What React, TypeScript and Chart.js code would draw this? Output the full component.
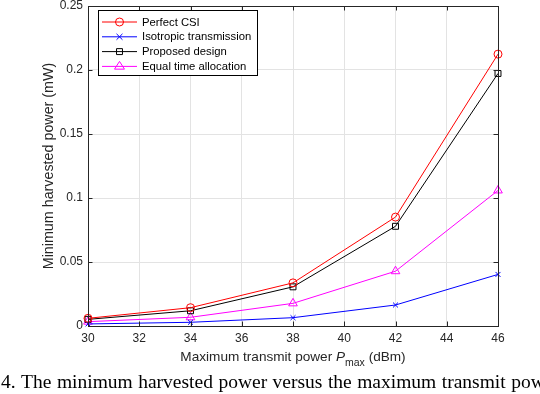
import React, { useEffect, useRef } from 'react';
import { Chart, registerables } from 'chart.js';

Chart.register(...registerables);

// ---- data ----
const xValues = [30, 34, 38, 42, 46];
const perfectCSI = [0.006, 0.0143, 0.0337, 0.0851, 0.2124];
const isotropic = [0.0016, 0.0029, 0.0065, 0.0164, 0.0403];
const proposed = [0.0052, 0.0119, 0.0306, 0.0779, 0.1973];
const equalTime = [0.0034, 0.0068, 0.0177, 0.0428, 0.1059];

const seriesLabels = ['Perfect CSI', 'Isotropic transmission', 'Proposed design', 'Equal time allocation'];
const seriesColors = ['#ff0000', '#0000ff', '#000000', '#ff00ff'];
const seriesMarkers = ['circle', 'crossRot', 'rect', 'triangle'];
const seriesRadius = [4, 3.5, 4.2, 5];
const seriesValues = [perfectCSI, isotropic, proposed, equalTime];

const xMin = 30;
const xMax = 46;
const xStep = 2;
const yMin = 0;
const yMax = 0.25;
const yStep = 0.05;

const yTitle = 'Minimum harvested power (mW)';
const xTitleMain = 'Maximum transmit power ';
const xTitleVar = 'P';
const xTitleSub = 'max';
const xTitleUnit = ' (dBm)';
const caption = '4. The minimum harvested power versus the maximum transmit power';

const SANS = '"Liberation Sans", Arial, Helvetica, sans-serif';
const SERIF = '"Liberation Serif", "Times New Roman", serif';
const AXIS_COLOR = '#262626';

function drawMarker(ctx: CanvasRenderingContext2D, style: string, x: number, y: number, r: number, color: string) {
  ctx.save();
  ctx.strokeStyle = color;
  ctx.lineWidth = 1;
  ctx.beginPath();
  if (style === 'circle') {
    ctx.arc(x, y, r, 0, Math.PI * 2);
  } else if (style === 'crossRot') {
    const d = r * Math.SQRT1_2 * 1.2;
    ctx.moveTo(x - d, y - d); ctx.lineTo(x + d, y + d);
    ctx.moveTo(x + d, y - d); ctx.lineTo(x - d, y + d);
  } else if (style === 'rect') {
    const s = r * Math.SQRT1_2;
    ctx.rect(x - s, y - s, 2 * s, 2 * s);
  } else if (style === 'triangle') {
    ctx.moveTo(x, y - r);
    ctx.lineTo(x + r * 0.866 * 1.15, y + r * 0.5 * 1.1);
    ctx.lineTo(x - r * 0.866 * 1.15, y + r * 0.5 * 1.1);
    ctx.closePath();
  }
  ctx.stroke();
  ctx.restore();
}

const decorPlugin = {
  id: 'decor',
  afterDatasetsDraw(chart: any) {
    const ctx: CanvasRenderingContext2D = chart.ctx;
    const { left, right, top, bottom } = chart.chartArea;
    const xs = chart.scales.x;
    const ys = chart.scales.y;
    ctx.save();
    ctx.strokeStyle = AXIS_COLOR;
    ctx.lineWidth = 1;
    // inward ticks
    const tl = 4.5;
    ctx.beginPath();
    for (let v = xMin; v <= xMax + 1e-9; v += xStep) {
      const px = Math.round(xs.getPixelForValue(v)) + 0.5;
      ctx.moveTo(px, bottom); ctx.lineTo(px, bottom - tl);
      ctx.moveTo(px, top); ctx.lineTo(px, top + tl);
    }
    for (let v = yMin; v <= yMax + 1e-9; v += yStep) {
      const py = Math.round(ys.getPixelForValue(v)) + 0.5;
      ctx.moveTo(left, py); ctx.lineTo(left + tl, py);
      ctx.moveTo(right, py); ctx.lineTo(right - tl, py);
    }
    ctx.stroke();
    // box
    ctx.strokeRect(Math.round(left) + 0.5, Math.round(top) + 0.5, Math.round(right - left), Math.round(bottom - top));

    // legend
    const lx = 98, ly = 10, lw = 159, lh = 65;
    ctx.fillStyle = '#ffffff';
    ctx.fillRect(lx, ly, lw, lh);
    ctx.strokeStyle = '#000000';
    ctx.strokeRect(lx + 0.5, ly + 0.5, lw, lh);
    ctx.font = `11.3px ${SANS}`;
    ctx.textBaseline = 'middle';
    ctx.textAlign = 'left';
    chart.data.datasets.forEach((ds: any, i: number) => {
      const ry = ly + 12 + i * 14.8;
      ctx.strokeStyle = ds.borderColor;
      ctx.lineWidth = 1;
      ctx.beginPath();
      ctx.moveTo(lx + 4, ry); ctx.lineTo(lx + 39, ry);
      ctx.stroke();
      drawMarker(ctx, ds.pointStyle, lx + 21.5, ry, ds.pointRadius, ds.borderColor);
      ctx.fillStyle = '#000000';
      ctx.fillText(ds.label, lx + 44, ry + 0.5);
    });
    ctx.restore();
  },
  afterDraw(chart: any) {
    const ctx: CanvasRenderingContext2D = chart.ctx;
    const { left, right } = chart.chartArea;
    ctx.save();
    // x title with subscript
    const fMain = `13.6px ${SANS}`;
    const fIt = `italic 13.6px ${SANS}`;
    const fSub = `10.5px ${SANS}`;
    ctx.font = fMain; const w1 = ctx.measureText(xTitleMain).width; const w4 = ctx.measureText(xTitleUnit).width;
    ctx.font = fIt; const w2 = ctx.measureText(xTitleVar).width;
    ctx.font = fSub; const w3 = ctx.measureText(xTitleSub).width;
    const total = w1 + w2 + w3 + w4;
    let x = (left + right) / 2 - total / 2;
    const base = 361;
    ctx.fillStyle = AXIS_COLOR;
    ctx.textBaseline = 'alphabetic';
    ctx.textAlign = 'left';
    ctx.font = fMain; ctx.fillText(xTitleMain, x, base); x += w1;
    ctx.font = fIt; ctx.fillText(xTitleVar, x, base); x += w2;
    ctx.font = fSub; ctx.fillText(xTitleSub, x, base + 4.5); x += w3;
    ctx.font = fMain; ctx.fillText(xTitleUnit, x, base);
    // caption
    ctx.fillStyle = '#000000';
    ctx.font = `19.5px ${SERIF}`;
    (ctx as any).wordSpacing = '0.6px';
    ctx.fillText(caption, 1, 388);
    ctx.restore();
  },
};

export default function App() {
  const ref = useRef<HTMLCanvasElement | null>(null);
  useEffect(() => {
    if (!ref.current) return;
    const datasets = seriesValues.map((vals, i) => ({
      label: seriesLabels[i],
      data: xValues.map((x, j) => ({ x, y: vals[j] })),
      borderColor: seriesColors[i],
      backgroundColor: 'transparent',
      pointBackgroundColor: 'transparent',
      pointBorderColor: seriesColors[i],
      pointStyle: seriesMarkers[i],
      pointRadius: seriesRadius[i],
      pointBorderWidth: 1,
      borderWidth: 1,
      tension: 0,
      clip: false as any,
    }));
    const chart = new Chart(ref.current, {
      type: 'line',
      data: { datasets },
      options: {
        responsive: false,
        animation: false,
        devicePixelRatio: 1,
        layout: { padding: { top: 5, right: 42, left: 0, bottom: 0 } },
        plugins: { legend: { display: false }, tooltip: { enabled: false } },
        scales: {
          x: {
            type: 'linear',
            min: xMin,
            max: xMax,
            ticks: { stepSize: xStep, font: { family: SANS, size: 12 }, color: AXIS_COLOR, padding: 5, maxRotation: 0 },
            grid: { color: '#e3e3e3', drawTicks: false },
            border: { display: false },
            afterFit: (s: any) => { s.height = 68; },
          },
          y: {
            type: 'linear',
            min: yMin,
            max: yMax,
            ticks: {
              stepSize: yStep,
              font: { family: SANS, size: 12 },
              color: AXIS_COLOR,
              padding: 5,
              callback: (v: any) => String(parseFloat(Number(v).toFixed(2))),
            },
            grid: { color: '#e3e3e3', drawTicks: false },
            border: { display: false },
            title: {
              display: true,
              text: yTitle,
              font: { family: SANS, size: 14.3 },
              color: AXIS_COLOR,
              padding: { top: 40, bottom: 0 },
            },
            afterFit: (s: any) => { s.width = 88; s.paddingTop = 0; s.paddingBottom = 0; },
          },
        },
      },
      plugins: [decorPlugin],
    });
    return () => chart.destroy();
  }, []);
  return (
    <div style={{ position: 'fixed', left: 0, top: 0, width: 540, height: 394, background: '#ffffff', overflow: 'hidden' }}>
      <canvas ref={ref} width={540} height={394} style={{ display: 'block' }} />
    </div>
  );
}
